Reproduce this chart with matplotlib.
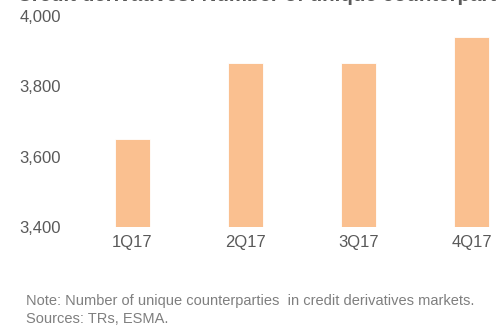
import matplotlib
matplotlib.use("Agg")
import matplotlib.pyplot as plt
from matplotlib.ticker import FuncFormatter

# data
quarters = ["1Q17", "2Q17", "3Q17", "4Q17"]
counterparties = [3650, 3865, 3865, 3940]

bar_color = "#FAC090"
text_gray = "#595959"
note_gray = "#7F7F7F"

plt.rcParams["font.family"] = ["Liberation Sans", "DejaVu Sans"]

fig = plt.figure(figsize=(4.96, 3.29), dpi=100)
ax = fig.add_axes([76 / 496, 1 - 227 / 329, 420 / 496, 211 / 329])

x = list(range(len(quarters)))
ax.bar(x, counterparties, width=0.31, color=bar_color, edgecolor="white", linewidth=0.6)

ax.set_xlim(-0.5, 3.217)
ax.set_ylim(3400, 4000)
ax.set_yticks([3400, 3600, 3800, 4000])
ax.yaxis.set_major_formatter(FuncFormatter(lambda v, p: f"{v:,.0f}"))
ax.set_xticks(x)
ax.set_xticklabels(quarters)
ax.tick_params(axis="both", length=0, labelsize=12, colors=text_gray)
ax.tick_params(axis="y", pad=11)
ax.tick_params(axis="x", pad=6)
for s in ax.spines.values():
    s.set_visible(False)

# title is cut off at the top edge in the original, only the bottom sliver shows
fig.text(0.035, 1 - 1 / 329, "Credit derivatives: Number of unique counterparties",
         fontsize=14.8, fontweight="bold", color=text_gray, va="baseline", ha="left")

fig.text(26 / 496, 1 - 301 / 329,
         "Note: Number of unique counterparties  in credit derivatives markets.",
         fontsize=10.5, color=note_gray, va="center", ha="left")
fig.text(26 / 496, 1 - 319 / 329, "Sources: TRs, ESMA.",
         fontsize=10.5, color=note_gray, va="center", ha="left")

fig.savefig("out.png", dpi=100)
